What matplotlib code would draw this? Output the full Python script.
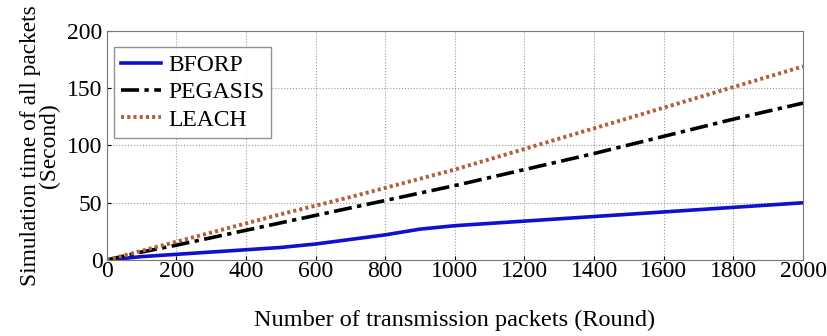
import matplotlib
matplotlib.use('Agg')
import matplotlib.pyplot as plt

rounds = [0, 100, 200, 300, 400, 500, 600, 700, 800, 900, 1000, 1200, 1400, 1600, 1800, 2000]
bforp = [0, 3, 5, 7, 9, 11, 14, 18, 22, 27, 30, 34, 38, 42, 46, 50]
pegasis = [0, 7, 13, 19.5, 26, 32.5, 39, 45.5, 52, 58.5, 65, 79, 93, 108, 123, 137]
leach = [0, 8, 16, 24, 32, 40, 47.5, 55, 63, 71, 79, 97, 115, 133, 151, 169]

plt.rcParams['font.family'] = ['Liberation Serif', 'DejaVu Serif']

fig = plt.figure(figsize=(8.27, 3.36), dpi=100)
ax = fig.add_axes([0.129, 0.226, 0.842, 0.682])

ax.plot(rounds, bforp, color='#1010d0', linewidth=2.6, label='BFORP')
ax.plot(rounds, pegasis, color='black', linewidth=2.6, linestyle=(0, (5, 1.5, 1.2, 1.5)), label='PEGASIS')
ax.plot(rounds, leach, color='#b0603a', linewidth=2.8, linestyle=(0, (0.8, 0.8)), label='LEACH')

ax.set_xlim(0, 2000)
ax.set_ylim(0, 200)
ax.set_xticks(range(0, 2001, 200))
ax.set_yticks(range(0, 201, 50))
ax.grid(True, linestyle=':', color='#999999', linewidth=0.8)
ax.tick_params(labelsize=17, direction='in', length=3, pad=1)
ax.tick_params(axis='y', pad=3)
for s in ax.spines.values():
    s.set_color('#777777')

ax.set_xlabel('Number of transmission packets (Round)', fontsize=17.5, labelpad=20)
ax.set_ylabel('Simulation time of all packets\n(Second)', fontsize=16.8, linespacing=0.9, labelpad=5)

leg = ax.legend(loc='upper left', fontsize=17, fancybox=False, edgecolor='#777777',
                handlelength=1.7, handletextpad=0.3, borderpad=0.3, labelspacing=0.25,
                borderaxespad=0.3, bbox_to_anchor=(0.0, 0.96))
leg.get_frame().set_linewidth(1.0)

fig.savefig('out.png', dpi=100)
